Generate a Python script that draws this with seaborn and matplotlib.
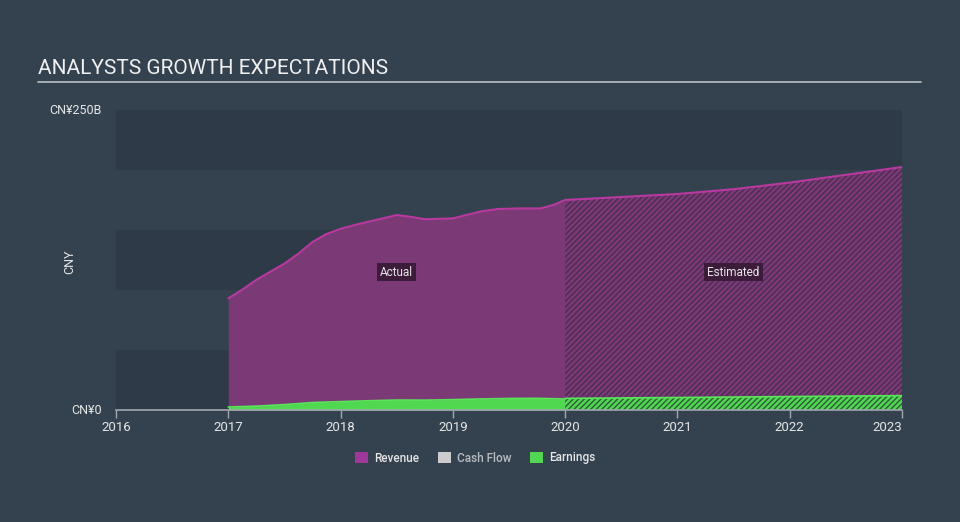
import matplotlib
matplotlib.use("Agg")
import matplotlib.pyplot as plt
import seaborn as sns
import pandas as pd
from matplotlib.patches import Patch

# ---- data (CNY billions) ----
rev_actual_years = [2017.0, 2017.12, 2017.25, 2017.5, 2017.62, 2017.75, 2017.87, 2018.0,
                    2018.12, 2018.25, 2018.37, 2018.5, 2018.62, 2018.75, 2019.0, 2019.12,
                    2019.25, 2019.4, 2019.6, 2019.78, 2019.9, 2020.0]
revenue_actual = [93, 100, 108.5, 122, 130, 140, 146.5, 151,
                  154, 157, 159.5, 162.5, 161, 159, 159.7, 162.5,
                  165.5, 167.5, 168, 168, 171, 175]
earn_actual_years = [2017.0, 2017.25, 2017.5, 2017.75, 2018.0, 2018.25, 2018.5, 2018.75,
                     2019.0, 2019.25, 2019.5, 2019.75, 2020.0]
earnings_actual = [2.5, 3.2, 4.5, 6.2, 7, 7.7, 8.3, 8.2, 8.6, 9.2, 9.6, 9.7, 9.2]
est_years = [2020.0, 2021.0, 2021.5, 2022.0, 2023.0]
revenue_est = [175, 180, 184, 189.5, 202.5]
earnings_est = [9.7, 10.4, 10.8, 11.2, 12]
x_ticks = [2016, 2017, 2018, 2019, 2020, 2021, 2022, 2023]
y_tick_labels = ["CN¥0", "CN¥250B"]
legend_labels = ["Revenue", "Cash Flow", "Earnings"]

BG = "#34414f"
BAND_DARK = "#2e3a47"
REV_FILL = "#7b3a76"
REV_LINE = "#b8399f"
EARN_FILL = "#50d850"
EARN_LINE = "#5ae65a"
CASH = "#cccccc"
TXT = "#e6e6e6"

sns.set_theme(style="dark")
plt.rcParams["font.family"] = ["Roboto", "DejaVu Sans"]
plt.rcParams["hatch.linewidth"] = 1.0

fig = plt.figure(figsize=(9.6, 5.22), dpi=100, facecolor=BG)
ax = fig.add_axes([116 / 960, 1 - 410 / 522, (902 - 116) / 960, 300 / 522])
ax.set_facecolor(BG)
ax.set_xlim(2016, 2023.0)
ax.set_ylim(0, 250)

# alternating bands
for i in range(5):
    if i % 2 == 0:
        ax.axhspan(i * 50, (i + 1) * 50, color=BAND_DARK, lw=0, zorder=0)

df_ra = pd.DataFrame({"year": rev_actual_years, "Revenue": revenue_actual})
df_ea = pd.DataFrame({"year": earn_actual_years, "Earnings": earnings_actual})
df_e = pd.DataFrame({"year": est_years, "Revenue": revenue_est, "Earnings": earnings_est})

ax.fill_between(df_ra["year"], 0, df_ra["Revenue"], color=REV_FILL, lw=0, zorder=2)
ax.fill_between(df_ea["year"], 0, df_ea["Earnings"], color=EARN_FILL, lw=0, zorder=3)
ax.fill_between(df_e["year"], 0, df_e["Revenue"], facecolor=REV_FILL, edgecolor="#4a2c52",
                hatch="//////", lw=0, zorder=2)
ax.fill_between(df_e["year"], 0, df_e["Earnings"], facecolor=EARN_FILL, edgecolor="#2f5a3a",
                hatch="//////", lw=0, zorder=3)

sns.lineplot(data=df_ra, x="year", y="Revenue", color=REV_LINE, lw=1.5, ax=ax, zorder=4)
sns.lineplot(data=df_e, x="year", y="Revenue", color=REV_LINE, lw=1.5, ax=ax, zorder=4)
sns.lineplot(data=df_ea, x="year", y="Earnings", color=EARN_LINE, lw=1.2, ax=ax, zorder=4)
sns.lineplot(data=df_e, x="year", y="Earnings", color=EARN_LINE, lw=1.2, ax=ax, zorder=4)

box = dict(boxstyle="square,pad=0.25", fc="#3d1c3b", ec="none")
ax.text(2018.5, 115, "Actual", color=TXT, fontsize=8.5, ha="center", va="center", bbox=box, zorder=6)
ax.text(2021.5, 115, "Estimated", color=TXT, fontsize=8.5, ha="center", va="center", bbox=box, zorder=6)

for s in ["top", "right", "left"]:
    ax.spines[s].set_visible(False)
ax.spines["bottom"].set_color("#a0a8b0")
ax.spines["bottom"].set_linewidth(1.2)
ax.spines["bottom"].set_zorder(5)
ax.set_xticks(x_ticks)
ax.set_xticklabels([str(t) for t in x_ticks])
ax.tick_params(axis="x", colors="#a0a8b0", length=6, width=1, direction="out", bottom=True,
               labelcolor=TXT, labelsize=9.5, pad=2)
ax.get_xticklabels()[-1].set_ha("right")
ax.set_yticks([])
ax.set_xlabel("")
ax.set_ylabel("")
ax.grid(False)
if ax.get_legend():
    ax.get_legend().remove()

fig.text(102 / 960, 1 - 110 / 522, y_tick_labels[1], color=TXT, fontsize=9, ha="right", va="center")
fig.text(102 / 960, 1 - 410 / 522, y_tick_labels[0], color=TXT, fontsize=9, ha="right", va="center")
fig.text(70 / 960, 1 - 262 / 522, "CNY", color=TXT, fontsize=9, ha="center", va="center", rotation=90)

fig.text(38 / 960, 1 - 68 / 522, "ANALYSTS GROWTH EXPECTATIONS", color="#f0f0f0", fontsize=15,
         ha="left", va="center")
fig.add_artist(plt.Line2D([38 / 960, 921 / 960], [1 - 81.5 / 522, 1 - 81.5 / 522],
                          color="#b0b6bc", lw=1.3))

handles = [Patch(facecolor="#a3369a", edgecolor="none"),
           Patch(facecolor=CASH, edgecolor="none"),
           Patch(facecolor=EARN_FILL, edgecolor="none")]
leg = fig.legend(handles, legend_labels, loc="center", bbox_to_anchor=(475 / 960, 1 - 458 / 522),
                 ncol=3, frameon=False, fontsize=8.5, handlelength=1.1, handleheight=1.1,
                 columnspacing=1.6, handletextpad=0.5, prop={"weight": "medium", "size": 8.5})
for t, c in zip(leg.get_texts(), [TXT, "#b8bcc0", TXT]):
    t.set_color(c)

fig.savefig("out.png", dpi=100, facecolor=BG)
